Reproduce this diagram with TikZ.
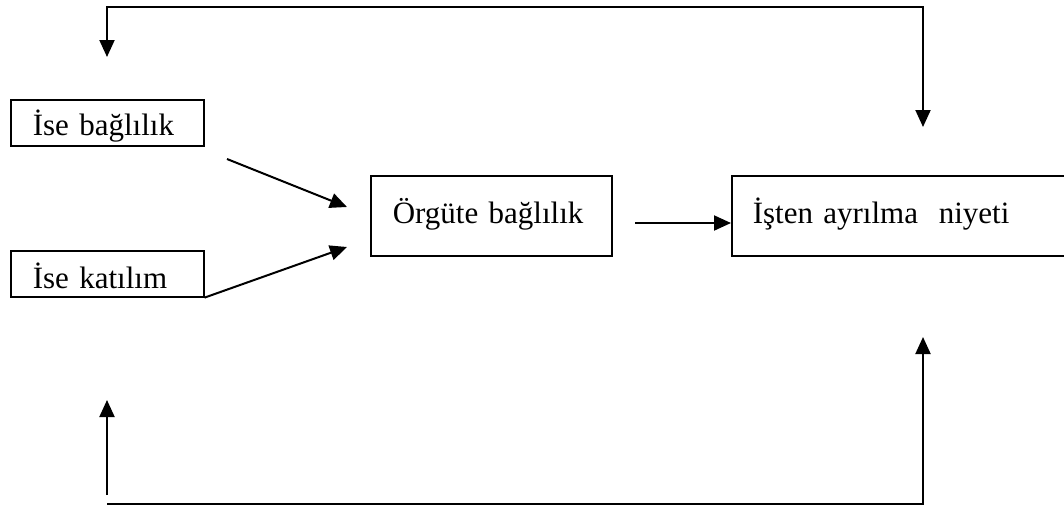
\documentclass[tikz,border=0pt]{standalone}
\usepackage{fontspec}
\setmainfont{Liberation Serif}
\usetikzlibrary{arrows.meta}

\begin{document}
\begin{tikzpicture}[x=1pt,y=-1pt,
        >={Triangle[length=17pt,width=15pt]},
        box/.style={draw,line width=1.6pt,anchor=north west,inner ysep=0pt,align=left,
            font=\fontsize{31}{36}\selectfont},
        arr/.style={line width=2pt}]
    \useasboundingbox (0,0) rectangle (1064,509);

    % kutular
    \node[box,inner xsep=22pt,text width=149pt,text height=36pt,text depth=10pt] (bag) at (10,99) {İse bağlılık};
    \node[box,inner xsep=22pt,text width=149pt,text height=38pt,text depth=8pt] (kat) at (10,250) {İse katılım};
    \node[box,inner xsep=22pt,text width=197pt,text height=48pt,text depth=32pt] (org) at (370,175) {Örgüte bağlılık};
    \node[box,inner xsep=21pt,text width=300pt,text height=48pt,text depth=32pt] (ayr) at (731,175) {İşten ayrılma\ \ niyeti};

    % ok uclari
    \coordinate (bagA) at (227,159);
    \coordinate (bagB) at (347,207);
    \coordinate (katB) at (347,247);
    \coordinate (orgA) at (635,223);

    \draw[arr,->] (bagA) -- (bagB);
    \draw[arr,->] (kat.south east) -- (katB);
    \draw[arr,->] (orgA) -- (orgA -| ayr.west);

    % geri besleme
    \coordinate (ustS) at (107,57);
    \coordinate (ustA) at (107,7);
    \coordinate (ustB) at (923,7);
    \coordinate (ustE) at (923,127);
    \draw[arr,<->] (ustS) -- (ustA) -- (ustB) -- (ustE);

    \coordinate (altS) at (107,400);
    \coordinate (altK) at (107,495);
    \coordinate (altA) at (107,504);
    \coordinate (altB) at (923,504);
    \coordinate (altE) at (923,337);
    \draw[arr,->] (altK) -- (altS);
    \draw[arr,->] (altA) -- (altB) -- (altE);
\end{tikzpicture}
\end{document}
